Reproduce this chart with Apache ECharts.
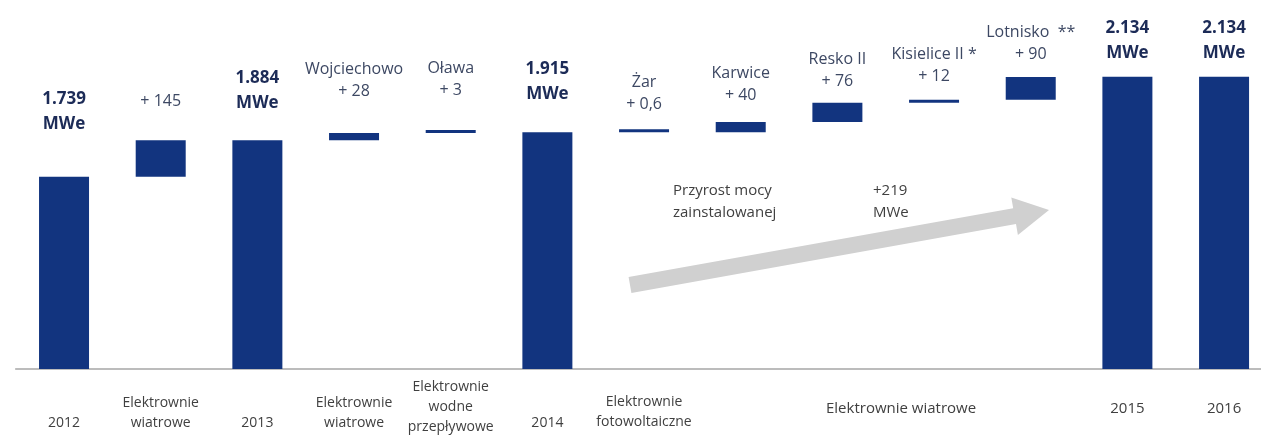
<!DOCTYPE html>
<html><head><meta charset="utf-8">
<script src="https://cdn.jsdelivr.net/npm/echarts@6/dist/echarts.min.js"></script>
<style>html,body{margin:0;padding:0;background:#fff}#c{width:1261px;height:439px}</style>
</head><body><div id="c"></div>
<script>
// ---- data ----
const categories = ['2012','Wiatrowe 2013','2013','Wojciechowo','Oława','2014','Żar','Karwice','Resko II','Kisielice II','Lotnisko','2015','2016'];
const tickLabels = ['2012','Elektrownie\nwiatrowe','2013','Elektrownie\nwiatrowe','Elektrownie\nwodne\nprzepływowe','2014','Elektrownie\nfotowoltaiczne','','','Elektrownie wiatrowe','','2015','2016'];
const totals     = [1739, null, 1884, null, null, 1915, null, null, null, null, null, 2134, 2134];
const increments = [null, 145, null, 28, 3, null, 0.6, 40, 76, 12, 90, null, null];
const projectNames = ['', '', '', 'Wojciechowo', 'Oława', '', 'Żar', 'Karwice', 'Resko II', 'Kisielice II *', 'Lotnisko  **', '', ''];
const valueTexts = ['1.739', '+ 145', '1.884', '+ 28', '+ 3', '1.915', '+ 0,6', '+ 40', '+ 76', '+ 12', '+ 90', '2.134', '2.134'];
const totalUnit = 'MWe';
const arrowTexts = ['Przyrost mocy\nzainstalowanej', '+219\nMWe'];

// ---- layout / style (not data) ----
const labelGaps = [40, 28, 24, 31, 29, 26, 14, 16, 10, 12, 12, 11, 11];
const tickPads  = [44, 24, 44, 24, 8, 44, 23, 0, 0, 30, 0, 30, 30];
const tickPadRight = [0, 0, 0, 0, 0, 0, 0, 0, 0, 66, 0, 0, 0];
const tickSizes = [14, 14, 14, 14, 14, 14, 14, 14, 14, 15, 14, 15, 15];
const BAR = '#12347f';

// waterfall helper (base under each increment)
const base = [];
let run = 0;
for (let i = 0; i < categories.length; i++) {
  if (totals[i] != null) { base.push(null); run = totals[i]; }
  else { base.push(run); run += increments[i]; }
}

const chart = echarts.init(document.getElementById('c'), null, {renderer: 'canvas'});
const font = 'Open Sans';

const option = {
  animation: false,
  backgroundColor: '#ffffff',
  grid: {left: 15.7, width: 1256.7, top: 9.5, bottom: 70, containLabel: false, outerBoundsMode: 'none'},
  xAxis: {
    type: 'category',
    data: categories.map((c, i) => ({value: c, textStyle: {fontSize: tickSizes[i], padding: [tickPads[i], tickPadRight[i], 0, 0]}})),
    axisLine: {lineStyle: {color: '#a6a6a6', width: 1.5}},
    axisTick: {show: false},
    axisLabel: {
      interval: 0, margin: 0, color: '#404040', fontFamily: font, fontSize: 14, lineHeight: 20,
      formatter: (v, i) => tickLabels[i]
    }
  },
  yAxis: {type: 'value', min: 980, max: 2400, show: false, splitLine: {show: false}},
  series: [
    {
      type: 'bar', name: 'totals', barWidth: 50, barGap: '-100%',
      itemStyle: {color: BAR},
      data: totals.map((v, i) => v == null ? '-' : {value: v, label: {distance: labelGaps[i]}}),
      label: {
        show: true, position: 'top',
        formatter: p => '{t|' + valueTexts[p.dataIndex] + '}\n{t|' + totalUnit + '}',
        rich: {t: {fontFamily: font, fontWeight: 'bold', fontSize: 17, color: '#1c2b57', lineHeight: 25, align: 'center'}}
      }
    },
    {
      type: 'bar', name: 'base', stack: 'w', barWidth: 50, barGap: '-100%',
      itemStyle: {color: 'rgba(0,0,0,0)'}, emphasis: {disabled: true},
      data: base.map(v => v == null ? '-' : v)
    },
    {
      type: 'bar', name: 'increments', stack: 'w', barWidth: 50, barGap: '-100%', barMinHeight: 3,
      itemStyle: {color: BAR},
      data: increments.map((v, i) => v == null ? '-' : {value: v, label: {distance: labelGaps[i]}}),
      label: {
        show: true, position: 'top',
        formatter: p => {
          const n = projectNames[p.dataIndex];
          return (n ? '{n|' + n + '}\n' : '') + '{n|' + valueTexts[p.dataIndex] + '}';
        },
        rich: {n: {fontFamily: font, fontSize: 16, color: '#3d4863', lineHeight: 22, align: 'center'}}
      }
    }
  ],
  graphic: [
    {
      type: 'polygon', z: 0, silent: true,
      shape: {points: [[628.6, 277.1], [1013.2, 208.3], [1011.3, 197.5], [1049, 210], [1017.9, 234.9], [1016, 224.1], [631.4, 292.9]]},
      style: {fill: '#d0d0d0'}
    },
    {
      type: 'text', left: 673, top: 180, silent: true,
      style: {text: arrowTexts[0], fill: '#404040', font: '15px "Open Sans"', lineHeight: 22, align: 'left'}
    },
    {
      type: 'text', left: 873, top: 180, silent: true,
      style: {text: arrowTexts[1], fill: '#404040', font: '15px "Open Sans"', lineHeight: 22, align: 'left'}
    }
  ]
};
chart.setOption(option);
</script>
</body></html>
